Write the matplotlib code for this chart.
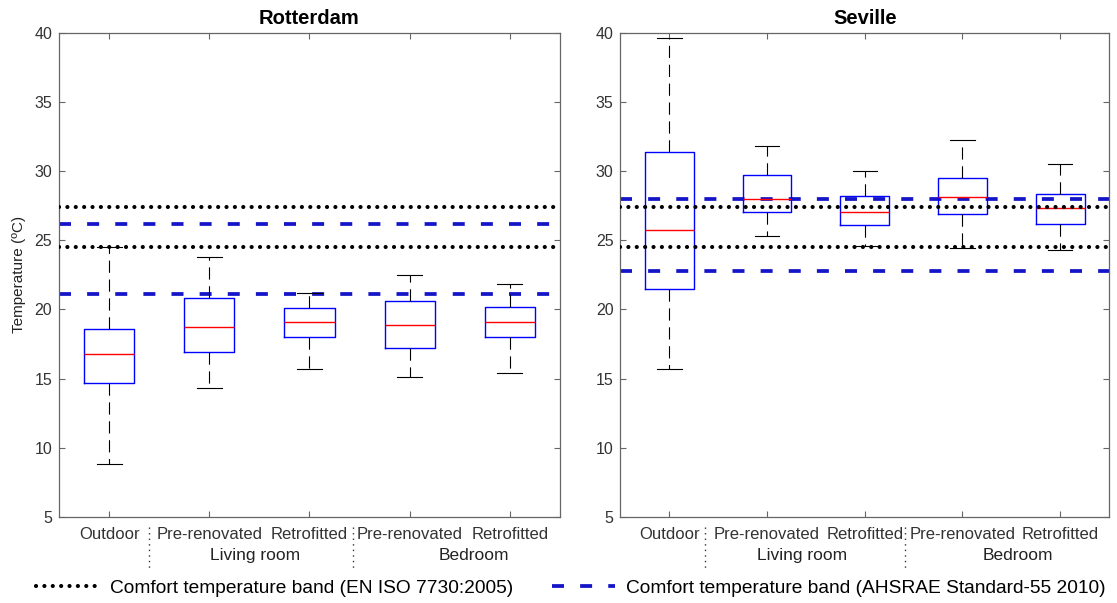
import numpy as np
import matplotlib.pyplot as plt
from matplotlib.lines import Line2D

plt.rcParams['font.family'] = ['Liberation Sans', 'DejaVu Sans']

# box labels
categories = ['Outdoor', 'Pre-renovated', 'Retrofitted', 'Pre-renovated', 'Retrofitted']
groups = ['Living room', 'Bedroom']
cities = ['Rotterdam', 'Seville']

# box statistics (deg C)
rot_whislo = [8.8, 14.3, 15.7, 15.1, 15.4]
rot_q1 = [14.7, 16.9, 18.0, 17.2, 18.0]
rot_med = [16.8, 18.7, 19.1, 18.9, 19.1]
rot_q3 = [18.6, 20.8, 20.1, 20.6, 20.2]
rot_whishi = [24.5, 23.8, 21.2, 22.5, 21.8]

sev_whislo = [15.7, 25.3, 24.6, 24.4, 24.3]
sev_q1 = [21.5, 27.0, 26.1, 26.9, 26.2]
sev_med = [25.7, 28.0, 27.0, 28.1, 27.3]
sev_q3 = [31.4, 29.7, 28.2, 29.5, 28.3]
sev_whishi = [39.6, 31.8, 30.0, 32.2, 30.5]

# comfort bands (lower, upper)
iso_band = [24.5, 27.4]
ashrae_rot = [21.1, 26.2]
ashrae_sev = [22.8, 28.0]

legend_labels = ['Comfort temperature band (EN ISO 7730:2005)',
                 'Comfort temperature band (AHSRAE Standard-55 2010)']

dot_style = dict(color='black', lw=3.0, linestyle=(0, (0.01, 2.0)), dash_capstyle='round')
dash_style = dict(color='#1414c8', lw=2.7, linestyle=(0, (3.2, 4.3)))
spine_col = '#666666'
text_col = '#333333'


def make_stats(lo, q1, med, q3, hi):
    out = []
    for i in range(len(lo)):
        out.append(dict(whislo=lo[i], q1=q1[i], med=med[i], q3=q3[i], whishi=hi[i], fliers=[]))
    return out


fig = plt.figure(figsize=(11.17, 6.03), dpi=100)
ax1 = fig.add_axes([0.0528, 0.1426, 0.4485, 0.8035])
ax2 = fig.add_axes([0.5555, 0.1426, 0.4373, 0.8035])

data = [
    (ax1, make_stats(rot_whislo, rot_q1, rot_med, rot_q3, rot_whishi), ashrae_rot, [1.40, 3.43], [2.46, 4.64]),
    (ax2, make_stats(sev_whislo, sev_q1, sev_med, sev_q3, sev_whishi), ashrae_sev, [1.37, 3.41], [2.36, 4.57]),
]

pos = np.arange(1, len(categories) + 1)

for k, (ax, stats, ashrae, seps, gpos) in enumerate(data):
    # comfort bands first so boxes sit on top
    for v in iso_band:
        ax.axhline(v, **dot_style, zorder=3)
    for v in ashrae:
        ax.axhline(v, **dash_style, zorder=2)

    ax.bxp(stats, positions=pos, widths=0.5, showfliers=False,
           boxprops=dict(color='blue', lw=1.0),
           medianprops=dict(color='red', lw=1.0),
           whiskerprops=dict(color='black', lw=0.8, linestyle=(0, (11, 6))),
           capprops=dict(color='black', lw=0.8))

    ax.set_xlim(0.5, 5.5)
    ax.set_ylim(5, 40)
    ax.set_yticks(np.arange(5, 41, 5))
    ax.set_xticks(pos)
    ax.set_xticklabels(categories, fontsize=12, color=text_col)
    ax.tick_params(axis='y', labelsize=11.5, labelcolor=text_col, pad=5)
    ax.tick_params(axis='x', pad=7)
    ax.tick_params(direction='in', length=4, width=0.8, color=spine_col,
                   top=True, right=True)
    for s in ax.spines.values():
        s.set_color(spine_col)
        s.set_linewidth(0.9)
    ax.set_title(cities[k], fontsize=14.5, fontweight='bold', pad=6)

    # group labels and dotted separators under the tick labels
    tr = ax.get_xaxis_transform()
    for g, xg in zip(groups, gpos):
        ax.text(xg, -0.08, g, transform=tr, ha='center', va='center',
                fontsize=12.5, color='#222222')
    for xs in seps:
        ax.plot([xs, xs], [-0.02, -0.105], transform=tr, clip_on=False,
                color='#333333', lw=1.0, linestyle=(0, (1, 3)))

ax1.set_ylabel('Temperature (ºC)', fontsize=11, color='#222222', labelpad=6)

handles = [Line2D([], [], **dot_style), Line2D([], [], **dash_style)]
fig.legend(handles, legend_labels, loc='center', bbox_to_anchor=(0.511, 0.025),
           ncol=2, frameon=False, fontsize=13.8, handlelength=3.3,
           handletextpad=0.55, columnspacing=2.0)

fig.savefig('out.png', dpi=100)
